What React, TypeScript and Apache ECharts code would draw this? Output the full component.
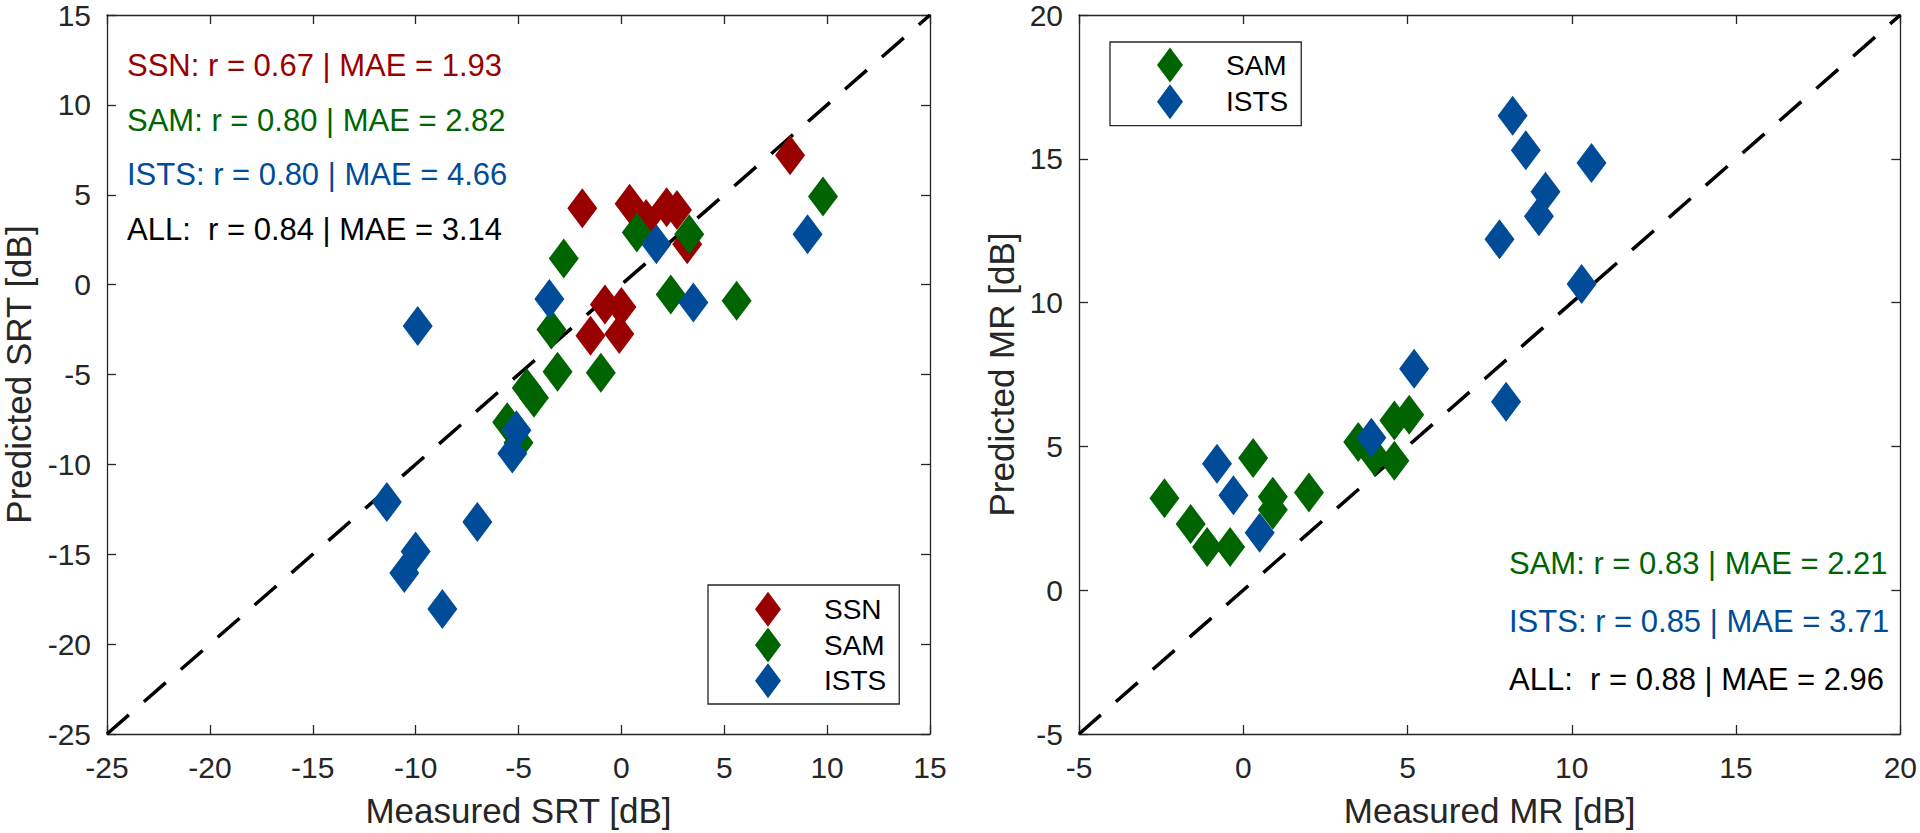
import React, { useEffect, useRef } from "react";
import * as echarts from "echarts";

// ---- Left panel (SRT) data ----
const ssnMeasuredSRT = [8.2, -1.9, 0.4, 1.2, 2.2, 2.7, 3.2, -0.8, 0.0, -1.5, -0.1];
const ssnPredictedSRT = [7.2, 4.25, 4.5, 3.65, 4.3, 4.15, 2.25, -1.1, -1.25, -2.85, -2.75];

const samMeasuredSRT = [9.8, 0.75, 3.3, -2.8, 2.4, 5.6, -3.4, -3.1, -1.0, -4.6, -4.25, -5.55, -5.0];
const samPredictedSRT = [4.9, 2.9, 2.8, 1.45, -0.55, -0.9, -2.5, -4.85, -4.9, -5.75, -6.3, -7.65, -8.8];

const istsMeasuredSRT = [1.7, 3.5, 9.05, -3.5, -9.9, -5.1, -5.3, -11.4, -7.0, -10.0, -10.55, -8.7];
const istsPredictedSRT = [2.25, -1.0, 2.8, -0.8, -2.3, -8.1, -9.4, -12.1, -13.2, -14.85, -16.05, -18.05];

// ---- Right panel (MR) data ----
const samMeasuredMR = [-2.4, -1.6, -1.1, -0.4, 0.3, 0.9, 0.9, 2.0, 3.5, 4.0, 4.6, 4.6, 5.05];
const samPredictedMR = [3.2, 2.3, 1.5, 1.5, 4.6, 3.25, 2.8, 3.4, 5.15, 4.65, 4.5, 5.9, 6.1];

const istsMeasuredMR = [8.2, 8.6, 10.6, 9.2, 9.0, 7.8, 10.3, 8.0, 5.2, 3.9, -0.8, -0.3, 0.5];
const istsPredictedMR = [16.5, 15.3, 14.85, 13.85, 13.0, 12.2, 10.65, 6.55, 7.7, 5.3, 4.4, 3.3, 2.0];

// ---- axis ranges / ticks ----
const srtRange = [-25, 15];
const mrRange = [-5, 20];
const tickStep = 5;

// ---- annotations ----
const leftStats = [
  "SSN: r = 0.67 | MAE = 1.93",
  "SAM: r = 0.80 | MAE = 2.82",
  "ISTS: r = 0.80 | MAE = 4.66",
  "ALL:  r = 0.84 | MAE = 3.14",
];
const rightStats = [
  "SAM: r = 0.83 | MAE = 2.21",
  "ISTS: r = 0.85 | MAE = 3.71",
  "ALL:  r = 0.88 | MAE = 2.96",
];

const RED = "#990000";
const GREEN = "#006400";
const BLUE = "#004C99";
const AXIS = "#262626";
const FONT = "'Liberation Sans', Arial, Helvetica, sans-serif";

const zip = (a: number[], b: number[]) => a.map((v, i) => [v, b[i]]);

function axisBase(gridIndex: number, range: number[]) {
  return {
    gridIndex,
    type: "value",
    min: range[0],
    max: range[1],
    interval: tickStep,
    splitLine: { show: false },
    axisLine: { show: true, onZero: false, lineStyle: { color: AXIS, width: 1.3 } },
    axisTick: { show: true, inside: true, length: 9, lineStyle: { color: AXIS, width: 1.3 } },
  };
}

function xMain(gridIndex: number, range: number[], name: string) {
  return {
    ...axisBase(gridIndex, range),
    position: "bottom",
    name,
    nameLocation: "middle",
    nameGap: 59,
    nameTextStyle: { fontSize: 35, color: AXIS, fontFamily: FONT },
    axisLabel: { fontSize: 30, margin: 18, color: AXIS, fontFamily: FONT },
  };
}
function xTop(gridIndex: number, range: number[]) {
  return { ...axisBase(gridIndex, range), position: "top", axisLabel: { show: false } };
}
function yMain(gridIndex: number, range: number[], name: string, gap: number) {
  return {
    ...axisBase(gridIndex, range),
    position: "left",
    name,
    nameLocation: "middle",
    nameGap: gap,
    nameTextStyle: { fontSize: 35, color: AXIS, fontFamily: FONT },
    axisLabel: { fontSize: 30, margin: 16, color: AXIS, fontFamily: FONT },
  };
}
function yRight(gridIndex: number, range: number[]) {
  return { ...axisBase(gridIndex, range), position: "right", axisLabel: { show: false } };
}

function scatter(name: string, xi: number, data: number[][], color: string, z: number) {
  return {
    type: "scatter",
    name,
    xAxisIndex: xi,
    yAxisIndex: xi,
    data,
    symbol: "diamond",
    symbolSize: [30, 40],
    itemStyle: { color, opacity: 1 },
    z,
    silent: true,
  };
}

function identity(xi: number, range: number[]) {
  return {
    type: "line",
    xAxisIndex: xi,
    yAxisIndex: xi,
    data: [
      [range[0], range[0]],
      [range[1], range[1]],
    ],
    symbol: "none",
    lineStyle: { color: "#000", width: 3.5, type: [29, 20] },
    z: 1,
    silent: true,
  };
}

export default function App() {
  const ref = useRef<HTMLDivElement>(null);
  useEffect(() => {
    if (!ref.current) return;
    const chart = echarts.init(ref.current, undefined, { renderer: "svg" });
    const legendCommon = {
      orient: "vertical",
      icon: "diamond",
      itemWidth: 26,
      itemHeight: 35,
      borderColor: AXIS,
      borderWidth: 1.3,
      backgroundColor: "#fff",
      selectedMode: false,
      textStyle: { fontSize: 28, color: "#000", fontFamily: FONT, padding: [0, 0, 0, 38] },
    };
    const option: any = {
      animation: false,
      backgroundColor: "#fff",
      grid: [
        { left: 106, top: 11, width: 824, height: 725 },
        { left: 1079, top: 11, width: 825, height: 725 },
      ],
      xAxis: [
        xMain(0, srtRange, "Measured SRT [dB]"),
        xMain(1, mrRange, "Measured MR [dB]"),
        xTop(0, srtRange),
        xTop(1, mrRange),
      ],
      yAxis: [
        yMain(0, srtRange, "Predicted SRT [dB]", 71),
        yMain(1, mrRange, "Predicted MR [dB]", 60),
        yRight(0, srtRange),
        yRight(1, mrRange),
      ],
      legend: [
        {
          ...legendCommon,
          data: ["SSN", "SAM", "ISTS"],
          left: 708,
          top: 585,
          itemGap: 0.7,
          padding: [6.8, 13, 5.8, 47],
        },
        {
          ...legendCommon,
          data: ["SAM", "ISTS"],
          left: 1110,
          top: 42,
          itemGap: 1.7,
          padding: [5.5, 13, 6.5, 47],
        },
      ],
      series: [
        identity(0, srtRange),
        identity(1, mrRange),
        scatter("SSN", 0, zip(ssnMeasuredSRT, ssnPredictedSRT), RED, 2),
        scatter("SAM", 0, zip(samMeasuredSRT, samPredictedSRT), GREEN, 3),
        scatter("ISTS", 0, zip(istsMeasuredSRT, istsPredictedSRT), BLUE, 4),
        scatter("SAM", 1, zip(samMeasuredMR, samPredictedMR), GREEN, 3),
        scatter("ISTS", 1, zip(istsMeasuredMR, istsPredictedMR), BLUE, 4),
      ],
      graphic: [
        ...leftStats.map((t, i) => ({
          type: "text",
          x: 127,
          y: [65.7, 120, 174.3, 229][i],
          z: 10,
          style: {
            text: t,
            fill: [RED, GREEN, BLUE, "#000"][i],
            fontSize: 31,
            fontFamily: FONT,
            verticalAlign: "middle",
            align: "left",
          },
        })),
        ...rightStats.map((t, i) => ({
          type: "text",
          x: 1509,
          y: [563, 621, 679][i],
          z: 10,
          style: {
            text: t,
            fill: [GREEN, BLUE, "#000"][i],
            fontSize: 31,
            fontFamily: FONT,
            verticalAlign: "middle",
            align: "left",
          },
        })),
      ],
    };
    chart.setOption(option);
    return () => chart.dispose();
  }, []);
  return (
    <div
      ref={ref}
      style={{ position: "fixed", left: 0, top: 0, width: 1920, height: 833, background: "#fff" }}
    />
  );
}
